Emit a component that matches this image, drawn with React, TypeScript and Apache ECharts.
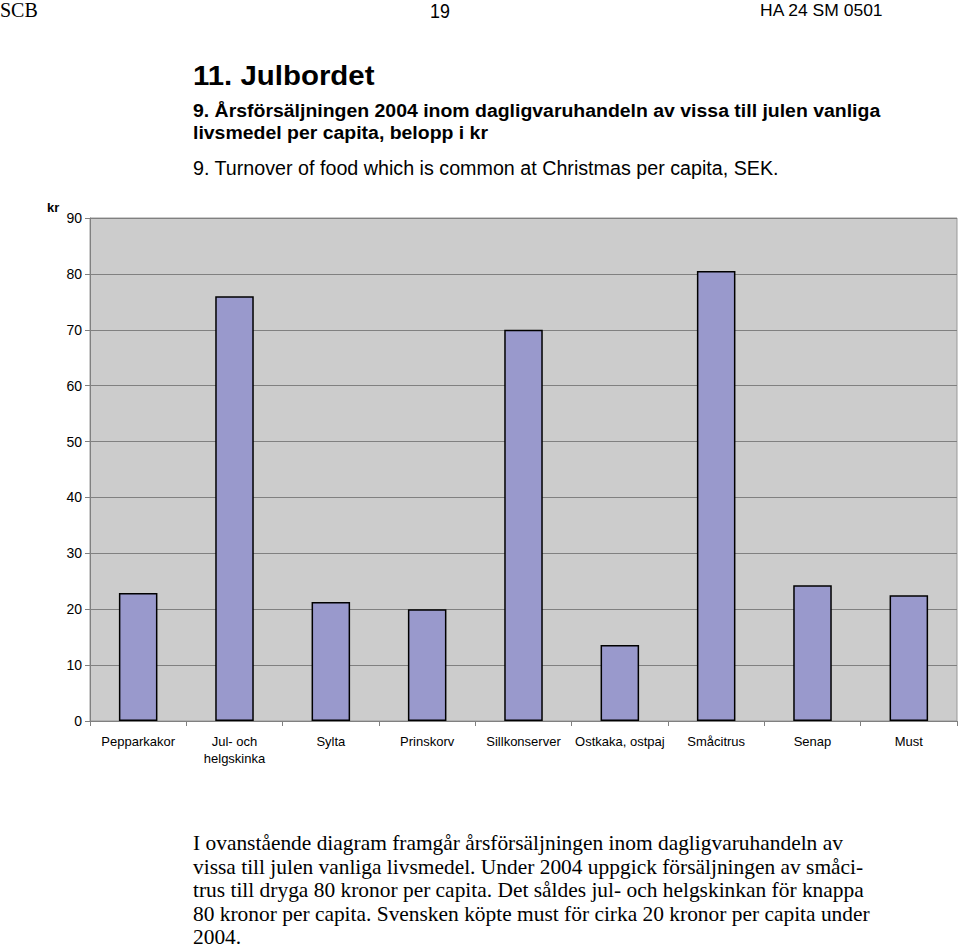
import React, { useEffect, useRef } from "react";
import * as echarts from "echarts";

const categories = [
  "Pepparkakor",
  "Jul- och\nhelgskinka",
  "Sylta",
  "Prinskorv",
  "Sillkonserver",
  "Ostkaka, ostpaj",
  "Småcitrus",
  "Senap",
  "Must",
];
const values = [22.9, 76.0, 21.3, 20.0, 70.0, 13.6, 80.5, 24.3, 22.5];

const headerLeft = "SCB";
const headerCenter = "19";
const headerRight = "HA 24 SM 0501";
const chapterTitle = "11. Julbordet";
const titleSv = [
  "9. Årsförsäljningen 2004 inom dagligvaruhandeln av vissa till julen vanliga",
  "livsmedel per capita, belopp i kr",
];
const titleEn = "9. Turnover of food which is common at Christmas per capita, SEK.";
const unitLabel = "kr";
const paragraph = [
  "I ovanstående diagram framgår årsförsäljningen inom dagligvaruhandeln av",
  "vissa till julen vanliga livsmedel. Under 2004 uppgick försäljningen av småci-",
  "trus till dryga 80 kronor per capita. Det såldes jul- och helgskinkan för knappa",
  "80 kronor per capita. Svensken köpte must för cirka 20 kronor per capita under",
  "2004.",
];

const SANS = "Liberation Sans, Arial, sans-serif";
const SERIF = "Liberation Serif, Times New Roman, serif";

export default function App() {
  const ref = useRef<HTMLDivElement>(null);
  useEffect(() => {
    document.body.style.margin = "0";
    const chart = echarts.init(ref.current!, null, { renderer: "svg" });
    const graphics: any[] = [
      { type: "text", left: 0, top: 0, style: { text: headerLeft, font: `20px ${SERIF}`, fill: "#000" } },
      { type: "text", x: 430, y: 0, scaleX: 0.85, style: { text: headerCenter, font: `21px ${SANS}`, fill: "#000" } },
      { type: "text", x: 760, y: 2, scaleX: 1.03, style: { text: headerRight, font: `17px ${SANS}`, fill: "#000" } },
      { type: "text", x: 193, y: 62, scaleX: 1.09, style: { text: chapterTitle, font: `bold 27px ${SANS}`, fill: "#000" } },
      { type: "text", x: 193, y: 101, scaleX: 1.052, style: { text: titleSv[0], font: `bold 18.5px ${SANS}`, fill: "#000" } },
      { type: "text", x: 193, y: 123, scaleX: 1.052, style: { text: titleSv[1], font: `bold 18.5px ${SANS}`, fill: "#000" } },
      { type: "text", x: 193, y: 158, scaleX: 0.985, style: { text: titleEn, font: `20px ${SANS}`, fill: "#000" } },
      { type: "text", x: 47, y: 201, style: { text: unitLabel, font: `bold 13px ${SANS}`, fill: "#000" } },
    ];
    paragraph.forEach((line, i) => {
      graphics.push({
        type: "text",
        x: 193,
        y: 833 + i * 23.5,
        scaleX: 1.02,
        style: { text: line, font: `21px ${SERIF}`, fill: "#000" },
      });
    });
    chart.setOption({
      animation: false,
      grid: {
        left: 90,
        top: 218,
        right: 3,
        bottom: 228,
        show: true,
        backgroundColor: "#cccccc",
        borderColor: "#999999",
        borderWidth: 1,
      },
      xAxis: {
        type: "category",
        data: categories,
        axisLine: { show: true, lineStyle: { color: "#808080", width: 1 } },
        axisTick: { show: true, length: 5, lineStyle: { color: "#808080" } },
        axisLabel: {
          interval: 0,
          color: "#000",
          fontFamily: SANS,
          fontSize: 13,
          margin: 12,
          lineHeight: 17,
        },
      },
      yAxis: {
        type: "value",
        min: 0,
        max: 90,
        interval: 10,
        axisLine: { show: true, lineStyle: { color: "#808080", width: 1 } },
        axisTick: { show: true, length: 5, lineStyle: { color: "#808080" } },
        axisLabel: { color: "#000", fontFamily: SANS, fontSize: 14, margin: 8 },
        splitLine: { show: true, lineStyle: { color: "#808080", width: 1 } },
      },
      series: [
        {
          type: "bar",
          data: values,
          barWidth: "40%",
          itemStyle: { color: "#9999cc", borderColor: "#000", borderWidth: 1.5 },
        },
      ],
      graphic: graphics,
    });
    return () => chart.dispose();
  }, []);
  return (
    <div
      ref={ref}
      style={{ position: "absolute", left: 0, top: 0, width: 960, height: 949, background: "#fff" }}
    />
  );
}
